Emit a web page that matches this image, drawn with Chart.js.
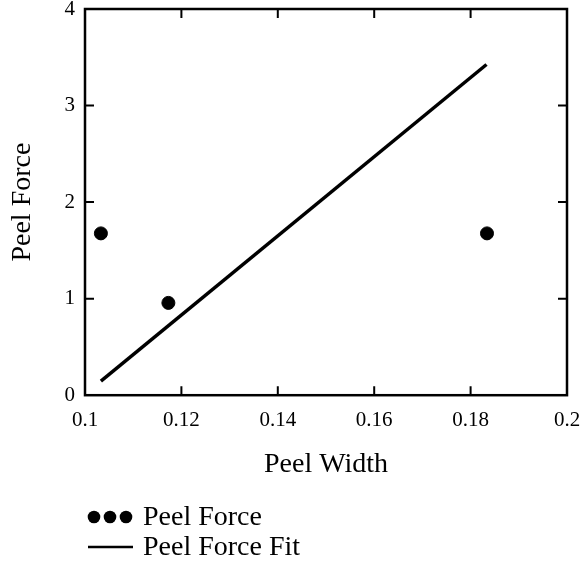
<!DOCTYPE html>
<html>
<head>
<meta charset="utf-8">
<script src="https://cdn.jsdelivr.net/npm/chart.js@4/dist/chart.umd.min.js"></script>
<style>
  html, body { margin: 0; padding: 0; background: #fff; }
  #wrap { width: 586px; height: 567px; }
</style>
</head>
<body>
<div id="wrap"><canvas id="peel"></canvas></div>
<script>
// measured data
const peelWidth = [0.1033, 0.1173, 0.1834];
const peelForce = [1.676, 0.956, 1.676];
const fitWidth = [0.1033, 0.1833];
const fitForce = [0.145, 3.425];
const xTicks = [0.1, 0.12, 0.14, 0.16, 0.18, 0.2];
const yTicks = [0, 1, 2, 3, 4];

const serif = "'Liberation Serif', 'Times New Roman', serif";

// frame + inward tick marks
const framePlugin = {
  id: 'frame',
  afterDatasetsDraw(chart) {
    const { ctx, chartArea: a, scales } = chart;
    ctx.save();
    ctx.strokeStyle = '#000';
    ctx.lineWidth = 2.5;
    ctx.strokeRect(a.left, a.top, a.right - a.left, a.bottom - a.top);
    ctx.lineWidth = 2;
    ctx.beginPath();
    xTicks.slice(1, -1).forEach(v => {
      const px = scales.x.getPixelForValue(v);
      ctx.moveTo(px, a.bottom); ctx.lineTo(px, a.bottom - 9);
      ctx.moveTo(px, a.top); ctx.lineTo(px, a.top + 9);
    });
    yTicks.slice(1, -1).forEach(v => {
      const py = scales.y.getPixelForValue(v);
      ctx.moveTo(a.left, py); ctx.lineTo(a.left + 9, py);
      ctx.moveTo(a.right, py); ctx.lineTo(a.right - 9, py);
    });
    ctx.stroke();
    ctx.restore();
  }
};

// legend stacked under the x title
const legendPlugin = {
  id: 'stackLegend',
  afterDraw(chart) {
    const ctx = chart.ctx;
    const sets = chart.data.datasets;
    ctx.save();
    ctx.fillStyle = '#000';
    ctx.strokeStyle = '#000';
    ctx.font = '28px ' + serif;
    ctx.textBaseline = 'middle';
    let y = 517;
    [94, 110, 126].forEach(x => {
      ctx.beginPath();
      ctx.arc(x, y, 6.3, 0, Math.PI * 2);
      ctx.fill();
    });
    ctx.fillText(sets[0].label, 143, y + 1);
    y = 547;
    ctx.lineWidth = 2.5;
    ctx.beginPath();
    ctx.moveTo(88, y); ctx.lineTo(133, y);
    ctx.stroke();
    ctx.fillText(sets[1].label, 143, y + 1);
    ctx.restore();
  }
};

new Chart(document.getElementById('peel'), {
  type: 'scatter',
  data: {
    datasets: [
      {
        label: 'Peel Force',
        data: peelWidth.map((x, i) => ({ x: x, y: peelForce[i] })),
        backgroundColor: '#000',
        borderColor: '#000',
        pointRadius: 6.5,
        showLine: false,
      },
      {
        label: 'Peel Force Fit',
        data: fitWidth.map((x, i) => ({ x: x, y: fitForce[i] })),
        borderColor: '#000',
        borderWidth: 3.5,
        pointRadius: 0,
        showLine: true,
      },
    ],
  },
  options: {
    responsive: true,
    maintainAspectRatio: false,
    animation: false,
    layout: { padding: { left: 6, right: 19, top: 9, bottom: 86 } },
    plugins: {
      legend: { display: false },
      tooltip: { enabled: false },
    },
    scales: {
      x: {
        type: 'linear',
        min: 0.1,
        max: 0.2,
        afterBuildTicks: s => { s.ticks = xTicks.map(v => ({ value: v })); },
        afterFit: s => { s.paddingLeft = 0; s.paddingRight = 0; },
        grid: { display: false },
        border: { display: false },
        ticks: {
          color: '#000',
          font: { family: serif, size: 21 },
          padding: 5,
          maxRotation: 0,
          callback: v => String(v),
        },
        title: {
          display: true,
          text: 'Peel Width',
          color: '#000',
          font: { family: serif, size: 28 },
          padding: { top: 9, bottom: 0 },
        },
      },
      y: {
        min: 0,
        max: 4,
        afterBuildTicks: s => { s.ticks = yTicks.map(v => ({ value: v })); },
        afterFit: s => { s.width = 79; s.paddingTop = 0; s.paddingBottom = 0; },
        grid: { display: false },
        border: { display: false },
        ticks: {
          color: '#000',
          font: { family: serif, size: 21 },
          padding: 2,
        },
        title: {
          display: true,
          text: 'Peel Force',
          color: '#000',
          font: { family: serif, size: 28 },
          padding: 0,
        },
      },
    },
  },
  plugins: [framePlugin, legendPlugin],
});
</script>
</body>
</html>
